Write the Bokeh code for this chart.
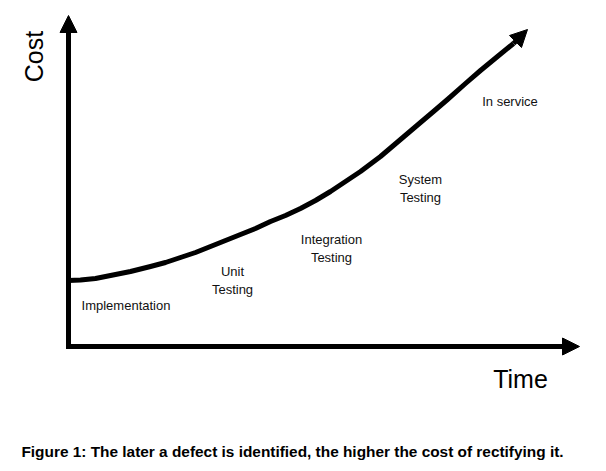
import math
from bokeh.plotting import figure
from bokeh.models import Range1d, Arrow, NormalHead, ColumnDataSource, Label
from bokeh.embed import file_html
from bokeh.resources import INLINE
from bokeh.core.properties import value

# Curve of cost versus time (arbitrary units)
time = [0, 12, 27, 42, 62, 82, 97, 112, 127, 142, 157, 172, 187, 202, 217, 232,
        247, 262, 277, 292, 312, 332, 352, 365, 379, 397, 412, 429, 445]
cost = [66, 66.5, 68, 71, 75, 80, 84, 89, 94, 100, 106, 112, 118, 125, 131, 138,
        146, 155, 165, 175, 190, 207, 224, 235, 247, 263, 276, 290, 303]
tip_time = 459
tip_cost = 317

# Phase labels placed along the curve
stages = ["Implementation", "Unit\nTesting", "Integration\nTesting", "System\nTesting", "In service"]
stage_time = [57.5, 164, 263, 352, 441.5]
stage_cost = [41, 66, 98, 158, 245]

# Axis extents
axis_time_max = 511
axis_cost_max = 331

x_label = "Time"
y_label = "Cost"
caption = "Figure 1: The later a defect is identified, the higher the cost of rectifying it."

FONT = "Liberation Sans"

p = figure(width=598, height=463, output_backend="svg", toolbar_location=None,
           x_range=Range1d(-68, 530), y_range=Range1d(-117, 346),
           x_axis_location=None, y_axis_location=None, min_border=0)
p.grid.visible = False
p.outline_line_color = None
p.background_fill_color = "white"
p.border_fill_color = "white"

# Axes as arrows
p.add_layout(Arrow(x_start=0, y_start=-2.5, x_end=0, y_end=axis_cost_max,
                   line_width=5, line_color="black",
                   end=NormalHead(size=17, fill_color="black", line_color="black", line_width=1)))
p.add_layout(Arrow(x_start=-2.5, y_start=0, x_end=axis_time_max, y_end=0,
                   line_width=5, line_color="black",
                   end=NormalHead(size=17, fill_color="black", line_color="black", line_width=1)))

# Cost curve
src = ColumnDataSource(dict(x=time, y=cost))
p.line("x", "y", source=src, line_width=5, line_color="black", line_join="round")
p.add_layout(Arrow(x_start=time[-1], y_start=cost[-1], x_end=tip_time, y_end=tip_cost,
                   line_width=5, line_color="black",
                   end=NormalHead(size=17, fill_color="black", line_color="black", line_width=1)))

# Stage labels
lsrc = ColumnDataSource(dict(x=stage_time, y=stage_cost, t=stages))
p.text("x", "y", text="t", source=lsrc, text_align="center", text_baseline="middle",
       text_font=value(FONT), text_font_size="13px", text_color="#111111")

p.add_layout(Label(x=-35, y=290, text=y_label, angle=math.pi / 2, text_align="center",
                   text_baseline="middle", text_font=FONT, text_font_size="25px",
                   text_color="black"))
p.add_layout(Label(x=452, y=-32, text=x_label, text_align="center",
                   text_baseline="middle", text_font=FONT, text_font_size="25px",
                   text_color="black"))
p.add_layout(Label(x=224, y=-105, text=caption, text_align="center",
                   text_baseline="middle", text_font=FONT, text_font_size="15.4px",
                   text_font_style="bold", text_color="black"))

open("out.html", "w").write(file_html(p, INLINE))
